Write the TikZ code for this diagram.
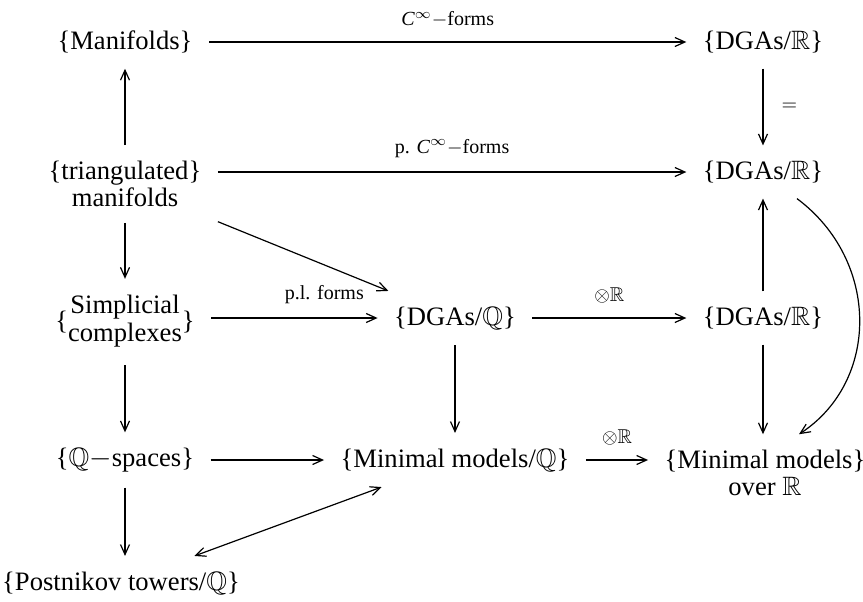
\documentclass[tikz,border=0pt]{standalone}
\usepackage{amssymb}
\usepackage{fontspec}
\setmainfont{Liberation Serif}
\usetikzlibrary{arrows.meta}

\begin{document}
\begin{tikzpicture}[x=0.5pt,y=-0.5pt,
    font=\fontsize{13.3}{13.8}\selectfont,
    >={Straight Barb[length=5pt,width=4.5pt]},
    every path/.style={line width=0.6pt},
    obj/.style={inner xsep=8pt, inner ysep=7.5pt, align=center},
    lbl/.style={font=\fontsize{10}{11}\selectfont, inner sep=3pt}]

    % Rahmen
    \useasboundingbox (0,0) rectangle (863,601);

    % Objekte
    \node[obj] (man)   at (125,42)  {\{Manifolds\}};
    \node[obj] (dgaRa) at (763,42)  {\{DGAs/$\mathbb{R}$\}};
    \node[obj] (tri)   at (125,184) {\{triangulated\}\\manifolds};
    \node[obj] (dgaRb) at (763,172) {\{DGAs/$\mathbb{R}$\}};
    \node[obj] (simp)  at (125,322)
        {\{\begin{tabular}{@{}c@{}}Simplicial\\complexes\end{tabular}\}};
    \node[obj] (dgaQ)  at (455,318) {\{DGAs/$\mathbb{Q}$\}};
    \node[obj] (dgaRc) at (763,318) {\{DGAs/$\mathbb{R}$\}};
    \node[obj] (qsp)   at (125,460) {\{$\mathbb{Q}$$-$spaces\}};
    \node[obj] (minQ)  at (455,460) {\{Minimal models/$\mathbb{Q}$\}};
    \node[obj] (minR)  at (765,473) {\{Minimal models\}\\over $\mathbb{R}$};
    \node[obj] (post)  at (121,583) {\{Postnikov towers/$\mathbb{Q}$\}};

    % Waagrechte Pfeile
    \draw[->] (man) -- (dgaRa)
        node[lbl, midway, above=4pt] {\textit{C}$^{\infty}$$-$forms};
    \draw[->] (tri.east |- dgaRb) -- (dgaRb)
        node[lbl, midway, above=4pt] {p. \textit{C}$^{\infty}$$-$forms};
    \draw[->] (simp.east |- dgaQ) -- (dgaQ)
        node[lbl, pos=0.68, above=4pt] {p.l. forms};
    \draw[->] (dgaQ) -- (dgaRc)
        node[lbl, midway, above=4pt] {$\otimes\mathbb{R}$};
    \draw[->] (qsp) -- (minQ);
    \draw[->] (minQ) -- (minQ -| minR.west)
        node[lbl, midway, above=4pt] {$\otimes\mathbb{R}$};

    % Senkrechte Pfeile
    \draw[->] (tri) -- (man);
    \draw[->] (tri) -- (simp);
    \draw[->] (simp) -- (qsp);
    \draw[->] (qsp) -- (qsp |- post.north);
    \draw[->] (dgaRa) -- (dgaRb)
        node[lbl, midway, right=6pt] {$=$};
    \draw[->] (dgaRc) -- (dgaRb);
    \draw[->] (dgaRc) -- (dgaRc |- minR.north);
    \draw[->] (dgaQ) -- (dgaQ |- minQ.north);

    % Schraege Pfeile
    \draw[->] (tri) -- (dgaQ);
    \draw[<->] (post) -- (minQ);

    % Bogen rechts
    \draw[->] ([xshift=17pt]dgaRb.south)
        .. controls +(83,62) and +(81,-53) .. ([xshift=17pt]minR.north);

\end{tikzpicture}
\end{document}
